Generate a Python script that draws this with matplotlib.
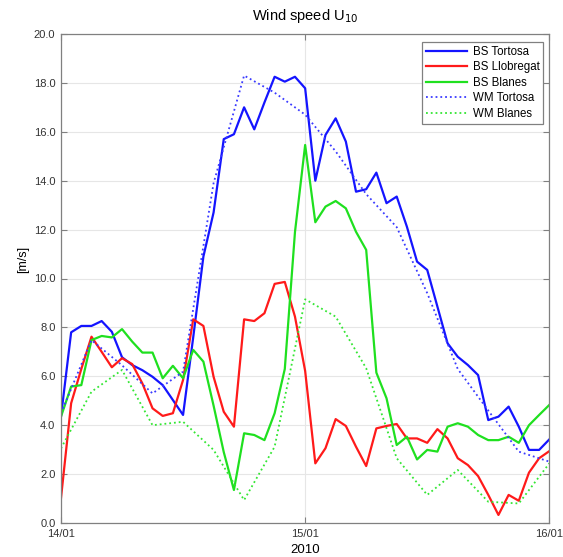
import pandas as pd
import matplotlib

matplotlib.use('Agg')
from matplotlib import rcParams

rcParams['font.family'] = ['Liberation Sans', 'DejaVu Sans']
import matplotlib.pyplot as plt

""" wind speed U10 at three stations, buoy (BS) vs model (WM) """

start = '2010-01-14'
tick_labels = ['14/01', '15/01', '16/01']
tick_dates = ['2010-01-14', '2010-01-15', '2010-01-16']

# hourly buoy data, 14/01 00h .. 16/01 00h
bs_tortosa = [4.35, 7.8, 8.06, 8.06, 8.26, 7.82, 6.78, 6.46, 6.25, 5.98, 5.64, 5.03, 4.42,
              7.6, 10.9, 12.7, 15.7, 15.9, 17.0, 16.1, 17.2, 18.25, 18.05, 18.25, 17.78,
              14.0, 15.87, 16.55, 15.6, 13.55, 13.65, 14.33, 13.08, 13.35, 12.12, 10.69,
              10.35, 8.85, 7.35, 6.8, 6.46, 6.05, 4.21, 4.35, 4.76, 3.94, 2.99, 2.99, 3.42]
bs_llobregat = [1.01, 4.9, 6.3, 7.62, 7.0, 6.37, 6.74, 6.5, 5.71, 4.69, 4.38, 4.49, 5.85,
                8.33, 8.06, 5.98, 4.55, 3.94, 8.33, 8.26, 8.58, 9.78, 9.86, 8.44, 6.22,
                2.44, 3.06, 4.25, 3.97, 3.12, 2.33, 3.87, 3.97, 4.05, 3.46, 3.46, 3.28,
                3.84, 3.46, 2.65, 2.37, 1.92, 1.15, 0.33, 1.15, 0.91, 2.06, 2.65, 2.94]
bs_blanes = [4.35, 5.58, 5.64, 7.48, 7.65, 7.59, 7.93, 7.42, 6.97, 6.97, 5.92, 6.43, 5.92,
             7.08, 6.6, 4.8, 2.9, 1.35, 3.67, 3.6, 3.39, 4.49, 6.3, 11.9, 15.46, 12.3,
             12.94, 13.17, 12.87, 11.91, 11.17, 6.15, 5.1, 3.19, 3.53, 2.6, 2.99, 2.92,
             3.94, 4.08, 3.94, 3.6, 3.39, 3.39, 3.53, 3.28, 4.0, 4.42, 4.83]

# 3-hourly model data
wm_tortosa = [4.49, 7.48, 6.45, 5.3, 6.19, 13.9, 18.3, 17.6, 16.7, 15.2, 13.45, 12.1,
              9.4, 6.3, 4.6, 2.92, 2.51]
wm_blanes = [3.05, 5.37, 6.26, 4.0, 4.14, 2.99, 0.94, 3.12, 9.15, 8.44, 6.33, 2.65, 1.15,
             2.17, 0.87, 0.8, 2.44]


def main():
    t_bs = pd.date_range(start, periods=len(bs_tortosa), freq='h')
    t_wm = pd.date_range(start, periods=len(wm_tortosa), freq='3h')

    fig = plt.figure(figsize=(5.63, 5.57), dpi=100)
    ax = fig.add_axes([0.1083, 0.061, 0.8674, 0.878])

    ax.plot(t_bs, bs_tortosa, color='#1414ff', linewidth=1.6, label='BS Tortosa')
    ax.plot(t_bs, bs_llobregat, color='#ff1a1a', linewidth=1.6, label='BS Llobregat')
    ax.plot(t_bs, bs_blanes, color='#1fe01f', linewidth=1.6, label='BS Blanes')
    ax.plot(t_wm, wm_tortosa, color='#3a3aff', linewidth=1.3, linestyle=':', label='WM Tortosa')
    ax.plot(t_wm, wm_blanes, color='#33e633', linewidth=1.3, linestyle=':', label='WM Blanes')

    ax.set_xlim(pd.Timestamp(tick_dates[0]), pd.Timestamp(tick_dates[-1]))
    ax.set_ylim(0, 20)
    ax.set_xticks([pd.Timestamp(d) for d in tick_dates])
    ax.set_xticklabels(tick_labels)
    ax.set_yticks(range(0, 21, 2))
    ax.set_yticklabels(['%.1f' % v for v in range(0, 21, 2)])

    ax.tick_params(direction='in', top=True, right=True, length=4, width=0.8,
                   color='#808080', labelsize=8, labelcolor='#333333', pad=4)
    for s in ax.spines.values():
        s.set_color('#808080')
        s.set_linewidth(0.9)
    ax.grid(color='#e6e6e6', linewidth=0.8, linestyle='-')
    ax.set_axisbelow(True)

    ax.set_title('Wind speed U$_{10}$', fontsize=10.5, pad=10)
    ax.set_xlabel('2010', fontsize=9.5, labelpad=4)
    ax.set_ylabel('[m/s]', fontsize=9)
    ax.yaxis.set_label_coords(-0.065, 0.54)

    leg = ax.legend(loc='upper right', bbox_to_anchor=(0.988, 0.984), borderaxespad=0,
                    fontsize=8.3, fancybox=False, framealpha=1, edgecolor='#808080',
                    handlelength=3.6, handletextpad=0.45, labelspacing=0.3, borderpad=0.35)
    leg.get_frame().set_linewidth(0.9)

    plt.savefig('out.png', dpi=100)


if __name__ == "__main__":
    main()
